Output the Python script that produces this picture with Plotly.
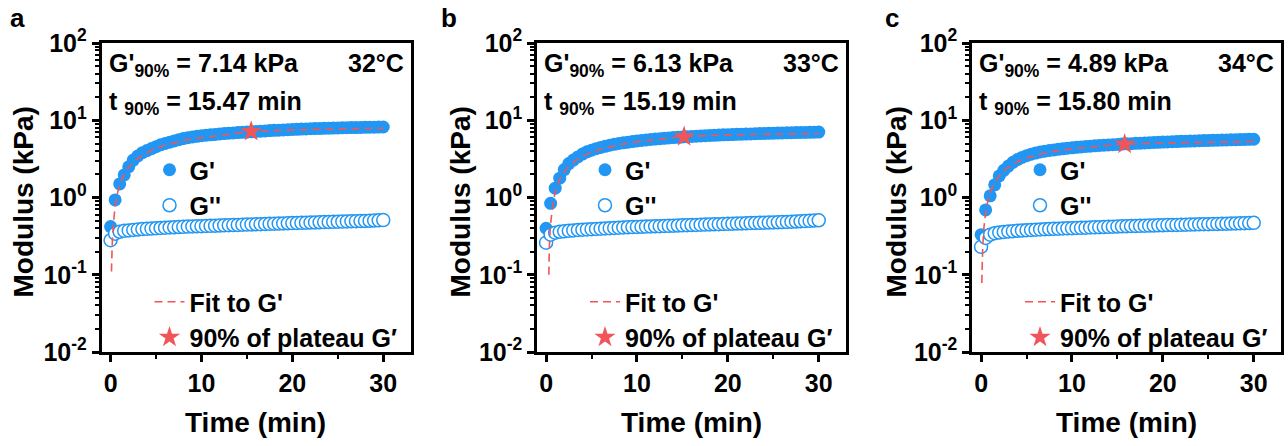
import plotly.graph_objects as go

# ---------------- data ----------------
TIME = [0, 0.5, 1, 1.5, 2, 2.5, 3, 3.5, 4, 4.5, 5, 5.5, 6, 6.5, 7, 7.5, 8, 8.5, 9, 9.5,
        10, 10.5, 11, 11.5, 12, 12.5, 13, 13.5, 14, 14.5, 15, 15.5, 16, 16.5, 17, 17.5,
        18, 18.5, 19, 19.5, 20, 20.5, 21, 21.5, 22, 22.5, 23, 23.5, 24, 24.5, 25, 25.5,
        26, 26.5, 27, 27.5, 28, 28.5, 29, 29.5, 30]

GP_A = [0.42, 0.93, 1.5, 1.96, 2.5, 3.05, 3.45, 3.8, 4.05, 4.3, 4.55, 4.8, 5.0, 5.2, 5.4,
        5.6, 5.8, 5.95, 6.08, 6.2, 6.3, 6.4, 6.48, 6.56, 6.64, 6.72, 6.79, 6.86, 6.92, 6.98,
        7.04, 7.1, 7.16, 7.22, 7.28, 7.34, 7.4, 7.45, 7.5, 7.55, 7.6, 7.64, 7.68, 7.72, 7.76,
        7.8, 7.83, 7.86, 7.89, 7.92, 7.95, 7.98, 8.0, 8.03, 8.05, 8.07, 8.1, 8.12, 8.14, 8.16, 8.18]
GPP_A = [0.28, 0.34, 0.36, 0.37, 0.375, 0.38, 0.385, 0.39, 0.393, 0.396, 0.40, 0.403, 0.406,
         0.409, 0.412, 0.415, 0.417, 0.42, 0.422, 0.424, 0.426, 0.428, 0.43, 0.432, 0.434,
         0.436, 0.438, 0.44, 0.442, 0.444, 0.446, 0.448, 0.45, 0.452, 0.454, 0.456, 0.458,
         0.46, 0.462, 0.464, 0.466, 0.468, 0.47, 0.472, 0.474, 0.476, 0.478, 0.48, 0.482,
         0.484, 0.486, 0.488, 0.49, 0.492, 0.494, 0.496, 0.498, 0.50, 0.503, 0.506, 0.51]
FIT_T_A = [0.1, 0.2, 0.3, 0.5, 0.75, 1, 1.5, 2, 3, 4, 5, 6, 8, 10, 12, 15.47, 18, 21, 25, 30]
FIT_A = [0.11, 0.28, 0.43, 0.75, 1.12, 1.45, 2.0, 2.45, 3.2, 3.8, 4.35, 4.75, 5.45, 5.95,
         6.35, 7.14, 7.35, 7.55, 7.72, 7.85]

GP_B = [0.40, 0.84, 1.32, 1.78, 2.3, 2.75, 3.05, 3.35, 3.65, 3.9, 4.1, 4.28, 4.45, 4.6, 4.75,
        4.88, 5.0, 5.1, 5.2, 5.3, 5.4, 5.48, 5.56, 5.64, 5.71, 5.78, 5.84, 5.9, 5.96, 6.02,
        6.08, 6.13, 6.18, 6.23, 6.27, 6.31, 6.35, 6.39, 6.43, 6.47, 6.5, 6.53, 6.57, 6.6, 6.63,
        6.66, 6.69, 6.72, 6.75, 6.77, 6.8, 6.83, 6.85, 6.88, 6.9, 6.92, 6.94, 6.96, 6.98, 7.0, 7.02]
GPP_B = [0.26, 0.33, 0.35, 0.36, 0.365, 0.37, 0.375, 0.38, 0.383, 0.386, 0.389, 0.392, 0.395,
         0.398, 0.401, 0.404, 0.407, 0.41, 0.412, 0.414, 0.416, 0.418, 0.42, 0.422, 0.424,
         0.426, 0.428, 0.43, 0.432, 0.434, 0.436, 0.438, 0.44, 0.442, 0.444, 0.446, 0.448,
         0.45, 0.452, 0.454, 0.456, 0.458, 0.46, 0.462, 0.464, 0.466, 0.468, 0.47, 0.472,
         0.474, 0.476, 0.478, 0.48, 0.483, 0.486, 0.489, 0.492, 0.495, 0.499, 0.503, 0.507]
FIT_T_B = [0.3, 0.4, 0.5, 0.75, 1, 1.5, 2, 3, 4, 5, 6, 8, 10, 12, 15.19, 18, 21, 25, 30]
FIT_B = [0.1, 0.3, 0.45, 0.8, 1.15, 1.7, 2.15, 2.85, 3.4, 3.85, 4.2, 4.8, 5.25, 5.6, 6.13,
         6.35, 6.5, 6.62, 6.7]

GP_C = [0.33, 0.69, 1.05, 1.46, 1.9, 2.25, 2.55, 2.85, 3.1, 3.3, 3.48, 3.63, 3.76, 3.88, 3.98,
        4.06, 4.13, 4.2, 4.27, 4.34, 4.4, 4.46, 4.52, 4.57, 4.62, 4.67, 4.71, 4.75, 4.79, 4.83,
        4.87, 4.91, 4.95, 4.98, 5.02, 5.05, 5.09, 5.12, 5.15, 5.18, 5.21, 5.24, 5.27, 5.3, 5.33,
        5.35, 5.38, 5.4, 5.43, 5.45, 5.48, 5.5, 5.52, 5.54, 5.56, 5.58, 5.6, 5.62, 5.64, 5.66, 5.68]
GPP_C = [0.23, 0.30, 0.33, 0.345, 0.352, 0.358, 0.363, 0.367, 0.371, 0.374, 0.377, 0.38, 0.383,
         0.386, 0.389, 0.391, 0.393, 0.395, 0.397, 0.399, 0.401, 0.403, 0.405, 0.407, 0.409,
         0.411, 0.413, 0.415, 0.417, 0.419, 0.421, 0.423, 0.425, 0.427, 0.428, 0.43, 0.431,
         0.433, 0.434, 0.436, 0.437, 0.439, 0.44, 0.442, 0.443, 0.445, 0.446, 0.448, 0.449,
         0.451, 0.452, 0.454, 0.455, 0.457, 0.458, 0.46, 0.461, 0.463, 0.465, 0.467, 0.47]
FIT_T_C = [0.08, 0.2, 0.35, 0.5, 0.75, 1, 1.5, 2, 3, 4, 5, 6, 8, 10, 12, 15.8, 18, 21, 25, 30]
FIT_C = [0.078, 0.25, 0.45, 0.62, 0.9, 1.15, 1.55, 1.9, 2.45, 2.9, 3.25, 3.5, 3.95, 4.25,
         4.5, 4.89, 5.0, 5.1, 5.2, 5.3]

STAR_T = [15.47, 15.19, 15.80]
STAR_G = [7.14, 6.13, 4.89]
G90_TEXT = ["7.14", "6.13", "4.89"]
T90_TEXT = ["15.47", "15.19", "15.80"]
TEMPS = ["32°C", "33°C", "34°C"]
PANEL_LABELS = ["a", "b", "c"]

X_TICKVALS = [0, 10, 20, 30]
X_MINOR = [5, 15, 25]
Y_TICKVALS = [0.01, 0.1, 1, 10, 100]
Y_TICKTEXT = ["10<sup>-2</sup>", "10<sup>-1</sup>", "10<sup>0</sup>", "10<sup>1</sup>", "10<sup>2</sup>"]

# ---------------- style / layout ----------------
W, H = 1288, 446
BLUE = "#2196F3"
RED = "#F0555A"
FONT = "Liberation Sans, Arial, sans-serif"
LEFTS = [101.5, 537, 972]
PW = 309
TOP, BOT = 43, 352
YTITLE_X = [23, 460, 896]
PANEL_X = [17, 449, 892]

def px(x):
    return x / W

def py(y):
    return 1 - y / H

Y_MINOR = [m * 10.0 ** e for e in range(-2, 2) for m in range(2, 10)]

GP = [GP_A, GP_B, GP_C]
GPP = [GPP_A, GPP_B, GPP_C]
FIT_T = [FIT_T_A, FIT_T_B, FIT_T_C]
FIT = [FIT_A, FIT_B, FIT_C]

fig = go.Figure()
layout = dict(
    width=W, height=H, margin=dict(l=0, r=0, t=0, b=0, autoexpand=False),
    paper_bgcolor="white", plot_bgcolor="white",
    font=dict(family=FONT, color="black", size=25, weight="bold"),
    annotations=[],
)

for i in range(3):
    sfx = "" if i == 0 else str(i + 1)
    xk, yk = "x" + sfx, "y" + sfx
    lg1 = "legend" if i == 0 else "legend" + str(2 * i + 1)
    lg2 = "legend" + str(2 * i + 2)
    L = LEFTS[i]

    fig.add_trace(go.Scatter(x=TIME, y=GP[i], mode="markers", name="G'",
                             marker=dict(symbol="circle", size=13, color=BLUE, line=dict(width=0)),
                             xaxis=xk, yaxis=yk, legend=lg1))
    fig.add_trace(go.Scatter(x=TIME, y=GPP[i], mode="markers", name="G''",
                             marker=dict(symbol="circle", size=13, color="white",
                                         line=dict(color=BLUE, width=1.5)),
                             xaxis=xk, yaxis=yk, legend=lg1))
    fig.add_trace(go.Scatter(x=FIT_T[i], y=FIT[i], mode="lines", name="Fit to G'",
                             line=dict(color=RED, width=1.6, dash="8px,5px", shape="spline"),
                             xaxis=xk, yaxis=yk, legend=lg2))
    fig.add_trace(go.Scatter(x=[STAR_T[i]], y=[STAR_G[i]], mode="markers",
                             name="90% of plateau G\u2032",
                             marker=dict(symbol="star", size=16, color=RED, line=dict(width=0)),
                             xaxis=xk, yaxis=yk, legend=lg2))

    axis_common = dict(
        showline=True, linewidth=2.5, linecolor="black", mirror=True,
        ticks="outside", ticklen=7, tickwidth=2.5, tickcolor="black",
        showgrid=False, zeroline=False, automargin=False,
        tickfont=dict(family=FONT, size=25, color="black", weight="bold"),
    )
    layout["xaxis" + sfx] = dict(
        axis_common, domain=[px(L), px(L + PW)], range=[-1, 33],
        tickmode="array", tickvals=X_TICKVALS, anchor=yk,
        minor=dict(tickmode="array", tickvals=X_MINOR, ticks="outside", ticklen=4,
                   tickwidth=2, tickcolor="black", showgrid=False),
    )
    layout["yaxis" + sfx] = dict(
        axis_common, type="log", domain=[py(BOT), py(TOP)], range=[-2, 2],
        tickmode="array", tickvals=Y_TICKVALS, ticktext=Y_TICKTEXT, anchor=xk,
        minor=dict(tickmode="array", tickvals=Y_MINOR, ticks="outside", ticklen=4,
                   tickwidth=1.5, tickcolor="black", showgrid=False),
    )

    leg_font = dict(family=FONT, size=25, color="black", weight="bold")
    layout[lg1] = dict(x=px(L + 48), y=py(147), xanchor="left", yanchor="top",
                       bgcolor="rgba(0,0,0,0)", font=leg_font, tracegroupgap=0)
    layout[lg2] = dict(x=px(L + 48), y=py(279), xanchor="left", yanchor="top",
                       bgcolor="rgba(0,0,0,0)", font=leg_font, tracegroupgap=0)

    ann = layout["annotations"]
    ann.append(dict(text="G'<sub>90%</sub> = " + G90_TEXT[i] + " kPa", x=px(L + 5), y=py(65),
                    xref="paper", yref="paper", xanchor="left", yanchor="middle",
                    showarrow=False, font=dict(family=FONT, size=25, color="black", weight="bold")))
    ann.append(dict(text="t <sub>90%</sub> = " + T90_TEXT[i] + " min", x=px(L + 5), y=py(103),
                    xref="paper", yref="paper", xanchor="left", yanchor="middle",
                    showarrow=False, font=dict(family=FONT, size=25, color="black", weight="bold")))
    ann.append(dict(text=TEMPS[i], x=px(L + PW - 5), y=py(63),
                    xref="paper", yref="paper", xanchor="right", yanchor="middle",
                    showarrow=False, font=dict(family=FONT, size=25, color="black", weight="bold")))
    ann.append(dict(text="Modulus (kPa)", x=px(YTITLE_X[i]), y=py((TOP + BOT) / 2 + 5),
                    xref="paper", yref="paper", xanchor="center", yanchor="middle",
                    textangle=-90, showarrow=False,
                    font=dict(family=FONT, size=28, color="black", weight="bold")))
    ann.append(dict(text="Time (min)", x=px(L + PW / 2), y=py(422),
                    xref="paper", yref="paper", xanchor="center", yanchor="middle",
                    showarrow=False, font=dict(family=FONT, size=28, color="black", weight="bold")))
    ann.append(dict(text=PANEL_LABELS[i], x=px(PANEL_X[i]), y=py(18),
                    xref="paper", yref="paper", xanchor="center", yanchor="middle",
                    showarrow=False, font=dict(family=FONT, size=26, color="black", weight="bold")))

fig.update_layout(**layout)
fig.write_html("out.html")
